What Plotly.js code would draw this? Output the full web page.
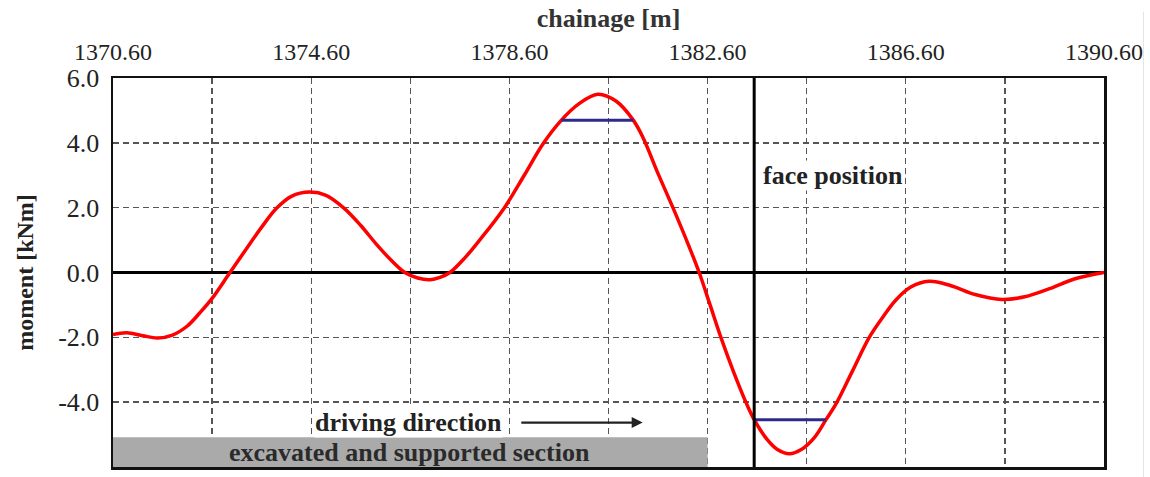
<!DOCTYPE html>
<html>
<head>
<meta charset="utf-8">
<script src="https://cdn.plot.ly/plotly-3.0.1.min.js"></script>
<style>html,body{margin:0;padding:0;background:#fff;}#chart{width:1150px;height:477px;}</style>
</head>
<body>
<div id="chart"></div>
<script>
// Bending moment curve
var chainage = [1370.60, 1370.88, 1371.20, 1371.50, 1371.80, 1372.10, 1372.35, 1372.60, 1372.96, 1373.30, 1373.60, 1373.90, 1374.20, 1374.57, 1374.90, 1375.25, 1375.60, 1375.90, 1376.20, 1376.49, 1376.75, 1377.00, 1377.20, 1377.40, 1377.70, 1378.00, 1378.50, 1378.90, 1379.27, 1379.65, 1380.00, 1380.38, 1380.75, 1381.10, 1381.30, 1381.60, 1381.90, 1382.20, 1382.43, 1382.65, 1382.87, 1383.12, 1383.38, 1383.54, 1383.80, 1384.00, 1384.25, 1384.50, 1384.75, 1384.99, 1385.20, 1385.52, 1385.86, 1386.15, 1386.40, 1386.70, 1387.07, 1387.50, 1388.00, 1388.54, 1389.00, 1389.50, 1390.00, 1390.60];
var moment   = [-1.91, -1.86, -1.95, -2.02, -1.93, -1.65, -1.25, -0.80, 0.00, 0.75, 1.40, 1.98, 2.35, 2.48, 2.38, 2.00, 1.45, 0.90, 0.40, 0.00, -0.17, -0.22, -0.15, 0.00, 0.45, 1.00, 2.00, 3.00, 3.95, 4.70, 5.20, 5.50, 5.29, 4.70, 4.15, 3.05, 2.00, 0.90, 0.00, -1.00, -2.01, -3.05, -4.03, -4.54, -5.15, -5.45, -5.59, -5.45, -5.10, -4.54, -4.03, -3.05, -2.01, -1.35, -0.85, -0.45, -0.27, -0.40, -0.68, -0.83, -0.75, -0.50, -0.20, 0.00];

// Blue horizontal markers
var upperBarX = [1379.65, 1381.10];
var upperBarY = [4.70, 4.70];
var lowerBarX = [1383.54, 1384.99];
var lowerBarY = [-4.54, -4.54];

// Reference positions
var faceX = 1383.54;
var sectionEnd = 1382.60;
var sectionTop = -5.08;
var arrowStart = 1378.81, arrowEnd = 1381.29, arrowY = -4.63;

// Axes ticks
var xTickVals = [1370.6, 1372.6, 1374.6, 1376.6, 1378.6, 1380.6, 1382.6, 1384.6, 1386.6, 1388.6, 1390.6];
var xTickText = ['1370.60', '', '1374.60', '', '1378.60', '', '1382.60', '', '1386.60', '', '1390.60'];
var yTickVals = [-6, -4, -2, 0, 2, 4, 6];
var yTickText = ['-6.0', '-4.0', '-2.0', '0.0', '2.0', '4.0', '6.0'];

var serif = 'Liberation Serif, Times New Roman, serif';

var traces = [
  {x: chainage, y: moment, type: 'scatter', mode: 'lines', line: {color: '#ff0000', width: 3.5, shape: 'spline', smoothing: 1}, hoverinfo: 'skip'},
  {x: upperBarX, y: upperBarY, type: 'scatter', mode: 'lines', line: {color: '#2e2a8c', width: 3}, hoverinfo: 'skip'},
  {x: lowerBarX, y: lowerBarY, type: 'scatter', mode: 'lines', line: {color: '#2e2a8c', width: 3}, hoverinfo: 'skip'}
];

var layout = {
  width: 1150, height: 477,
  margin: {l: 113, r: 46, t: 78, b: 10},
  paper_bgcolor: '#fff', plot_bgcolor: '#fff',
  showlegend: false,
  font: {family: serif, color: '#222', size: 24},
  xaxis: {
    side: 'top', range: [1370.6, 1390.6],
    tickvals: xTickVals, ticktext: xTickText,
    showgrid: true, gridcolor: '#555', griddash: '6px,4px', gridwidth: 1.4,
    zeroline: false, showline: true, linecolor: '#111', linewidth: 2.5, mirror: true,
    ticks: '', ticklabelstandoff: 6,
    tickfont: {family: serif, size: 24, color: '#222'},
    title: {text: '<b>chainage [m]</b>', font: {family: serif, size: 26, color: '#333'}, standoff: 4}
  },
  yaxis: {
    range: [-6, 6],
    tickvals: yTickVals, ticktext: yTickText,
    showgrid: true, gridcolor: '#555', griddash: '6px,4px', gridwidth: 1.4,
    zeroline: true, zerolinecolor: '#000', zerolinewidth: 3,
    showline: true, linecolor: '#111', linewidth: 2.5, mirror: true,
    ticks: '', ticklabelstandoff: 6,
    tickfont: {family: serif, size: 26, color: '#222'},
    title: {text: '<b>moment [kNm]</b>', font: {family: serif, size: 24, color: '#222'}, standoff: 18}
  },
  shapes: [
    {type: 'rect', xref: 'x', yref: 'y', x0: 1370.6, x1: sectionEnd, y0: -6, y1: sectionTop, fillcolor: '#aaaaaa', line: {width: 0}, layer: 'above'},
    {type: 'line', xref: 'x', yref: 'y', x0: faceX, x1: faceX, y0: -6, y1: 6, line: {color: '#000', width: 3}, layer: 'above'},
    {type: 'line', xref: 'paper', yref: 'paper', x0: 1.0399, x1: 1.0399, y0: -0.03, y1: 1.17, line: {color: '#e4e4e4', width: 1}}
  ],
  annotations: [
    {xref: 'x', yref: 'y', x: faceX + 0.15, y: 3.0, text: '<b>face position</b>', showarrow: false, xanchor: 'left', yanchor: 'middle', font: {family: serif, size: 26, color: '#222'}, bgcolor: '#fff', borderpad: 0},
    {xref: 'x', yref: 'y', x: 1374.66, y: arrowY, text: '<b>driving direction</b>', showarrow: false, xanchor: 'left', yanchor: 'middle', font: {family: serif, size: 26, color: '#222'}, bgcolor: '#fff', borderpad: 0},
    {xref: 'x', yref: 'y', axref: 'x', ayref: 'y', x: arrowEnd, y: arrowY, ax: arrowStart, ay: arrowY, text: '', showarrow: true, arrowhead: 2, arrowsize: 1, arrowwidth: 2.2, arrowcolor: '#222'},
    {xref: 'x', yref: 'y', x: 1376.59, y: (sectionTop - 6) / 2, text: '<b>excavated and supported section</b>', showarrow: false, xanchor: 'center', yanchor: 'middle', font: {family: serif, size: 26, color: '#2a2a2a'}}
  ]
};

Plotly.newPlot('chart', traces, layout, {displayModeBar: false, staticPlot: true});
</script>
</body>
</html>
